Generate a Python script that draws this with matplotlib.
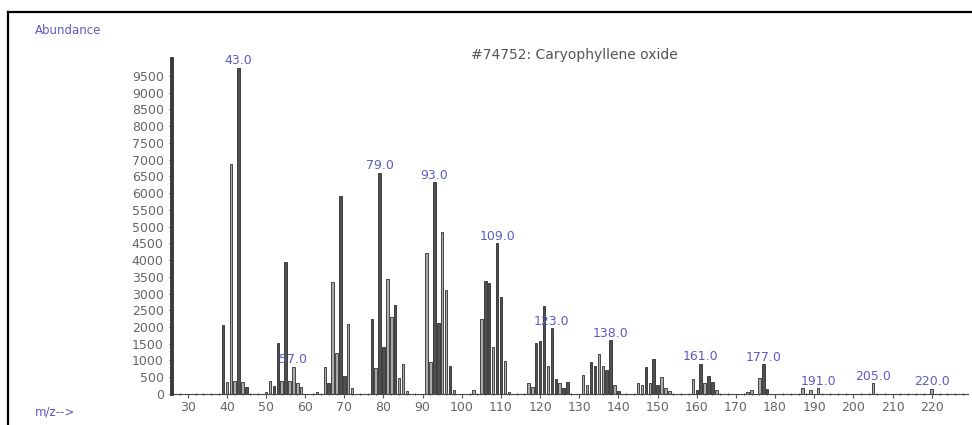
import matplotlib
matplotlib.use('Agg')
import matplotlib.pyplot as plt
from matplotlib.lines import Line2D
import numpy as np

# spectrum (m/z, abundance)
mz = [39, 40, 41, 42, 43, 44, 45, 50, 51, 52, 53, 54, 55, 56, 57, 58, 59,
      63, 65, 66, 67, 68, 69, 70, 71, 72, 77, 78, 79, 80, 81, 82, 83, 84,
      85, 86, 91, 92, 93, 94, 95, 96, 97, 98, 103, 105, 106, 107, 108, 109,
      110, 111, 112, 117, 118, 119, 120, 121, 122, 123, 124, 125, 126, 127,
      131, 132, 133, 134, 135, 136, 137, 138, 139, 140, 145, 146, 147, 148,
      149, 150, 151, 152, 153, 159, 160, 161, 162, 163, 164, 165, 173, 174,
      176, 177, 178, 187, 189, 191, 205, 220]
abundance = [2050, 370, 6870, 390, 9730, 370, 220, 70, 380, 240, 1520, 380,
             3930, 400, 820, 330, 220,
             70, 820, 340, 3355, 1215, 5915, 550, 2090, 170, 2230, 770, 6610,
             1410, 3425, 2310, 2660, 470,
             885, 100, 4220, 945, 6320, 2130, 4850, 3105, 845, 120, 120, 2240,
             3375, 3305, 1415, 4500,
             2905, 995, 70, 340, 220, 1515, 1590, 2640, 845, 1960, 440, 320,
             170, 350,
             570, 270, 965, 835, 1195, 845, 715, 1600, 270, 100, 340, 270, 815,
             330,
             1035, 270, 520, 170, 100, 440, 120, 896, 320, 540, 370, 120, 70,
             120,
             470, 885, 140, 170, 120, 170, 320, 150]
labelled = [43, 57, 79, 93, 109, 123, 138, 161, 177, 191, 205, 220]
label_text = ['43.0', '57.0', '79.0', '93.0', '109.0', '123.0', '138.0',
              '161.0', '177.0', '191.0', '205.0', '220.0']
x_ticks = list(range(30, 221, 10))
y_ticks = list(range(0, 9501, 500))

# peaks drawn in the darker grey
dark = {39, 43, 45, 52, 53, 55, 66, 69, 70, 77, 79, 80, 83, 93, 94, 97, 106,
        107, 109, 110, 119, 120, 121, 123, 124, 126, 127, 133, 134, 137, 138,
        140, 147, 149, 150, 160, 161, 163, 164, 177, 178}

fig = plt.figure(figsize=(9.72, 4.25), dpi=100)
ax = fig.add_axes([0.177, 0.073, 0.819, 0.788])

cols = ['#505050' if m in dark else '#ababab' for m in mz]
ax.bar(mz, abundance, width=0.62, color=cols, edgecolor='#2e2e2e',
       linewidth=0.6, zorder=2)

lab_col = '#5c5cc4'
pos = dict(zip(mz, abundance))
for m, t in zip(labelled, label_text):
    ax.annotate(t, (m, pos[m]), xytext=(0, 0.5), textcoords='offset points',
                ha='center', va='bottom', fontsize=9, color=lab_col)

ax.set_xlim(26, 229.3)
ax.set_ylim(0, 10000)
ax.set_xticks(x_ticks)
ax.set_yticks(y_ticks)
ax.set_xticks(np.arange(26, 230, 2), minor=True)
ax.set_yticks(np.arange(0, 10001, 100), minor=True)

for s in ['top', 'right']:
    ax.spines[s].set_visible(False)
ax.spines['left'].set_linewidth(2.8)
ax.spines['left'].set_color('#3a3a3a')
ax.spines['bottom'].set_linewidth(0.8)
ax.spines['bottom'].set_color('#444444')

ax.tick_params(axis='y', which='major', length=2, width=0.8, pad=4,
               labelsize=9, labelcolor='#666666', color='#444444')
ax.tick_params(axis='y', which='minor', length=1.5, width=0.5, color='#444444')
ax.tick_params(axis='x', which='major', length=3, width=0.8, pad=2,
               labelsize=9, labelcolor='#666666', color='#555555')
ax.tick_params(axis='x', which='minor', length=1.5, width=0.8,
               direction='inout', color='#555555')

ax.text(0.506, 1.013, '#74752: Caryophyllene oxide', transform=ax.transAxes,
        ha='center', va='center', fontsize=10, color='#555555')
fig.text(35 / 972, 1 - 31 / 425, 'Abundance', ha='left', va='center',
         fontsize=8.5, color=lab_col)
fig.text(35 / 972, 1 - 412 / 425, 'm/z-->', ha='left', va='center',
         fontsize=8.5, color=lab_col)

# frame lines along the left and top edge
fig.add_artist(Line2D([8 / 972, 8 / 972], [0, 1 - 12 / 425], color='black',
                      linewidth=1.6, transform=fig.transFigure))
fig.add_artist(Line2D([8 / 972, 1], [1 - 12 / 425, 1 - 12 / 425],
                      color='black', linewidth=1.6,
                      transform=fig.transFigure))

fig.savefig('out.png', dpi=100)
